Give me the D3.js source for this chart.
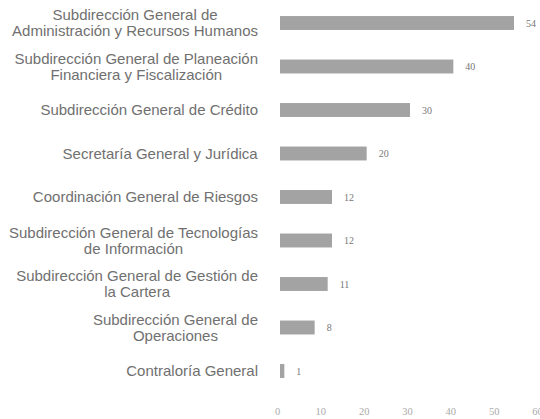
<!DOCTYPE html>
<html lang="es">
<head>
<meta charset="UTF-8" />
<title>Personal por área</title>
<script src="https://cdn.jsdelivr.net/npm/d3@7"></script>
<style>
  body { margin: 0; padding: 0; background: #fff; }
  .cat text { font: 15px "Liberation Sans", Arial, sans-serif; fill: #707070; }
  .val { font: 10px "Liberation Serif", serif; fill: #777; }
  .xaxis text { font: 10.5px "Liberation Serif", serif; fill: #aaa; }
</style>
</head>
<body>
<svg width="540" height="419"></svg>
<script>
// categories, one entry per bar (lines split with "|")
var categories = [
  'Subdirección General de|Administración y Recursos Humanos',
  'Subdirección General de Planeación|Financiera y Fiscalización',
  'Subdirección General de Crédito',
  'Secretaría General y Jurídica',
  'Coordinación General de Riesgos',
  'Subdirección General de Tecnologías|de Información',
  'Subdirección General de Gestión de|la Cartera',
  'Subdirección General de|Operaciones',
  'Contraloría General'
];
var values = [54, 40, 30, 20, 12, 12, 11, 8, 1];
var xTicks = [0, 10, 20, 30, 40, 50, 60];

var svg = d3.select('svg');

var x = d3.scaleLinear().domain([0, 60]).range([280, 540]);
var y = d3.scaleBand()
    .domain(categories)
    .range([1.25, 392.75])
    .paddingInner(0.68)
    .paddingOuter(0.34);

// bars
svg.append('g').selectAll('rect')
    .data(values)
    .join('rect')
    .attr('x', x(0))
    .attr('y', (d, i) => y(categories[i]))
    .attr('width', d => x(d) - x(0))
    .attr('height', y.bandwidth())
    .attr('fill', '#a3a3a3');

// value labels
svg.append('g').selectAll('text')
    .data(values)
    .join('text')
    .attr('class', 'val')
    .attr('x', d => x(d) + 12)
    .attr('y', (d, i) => y(categories[i]) + y.bandwidth() / 2)
    .attr('dy', '0.35em')
    .text(d => d);

// category labels
var lineH = 16;
var cat = svg.append('g').attr('class', 'cat');
categories.forEach(function(c) {
    var lines = c.split('|');
    var cy = y(c) + y.bandwidth() / 2;
    var t = cat.append('text')
        .attr('text-anchor', 'middle')
        .attr('y', cy - (lines.length - 1) * lineH / 2);
    lines.forEach(function(l, j) {
        t.append('tspan')
            .attr('x', 0)
            .attr('dy', j === 0 ? '0.35em' : lineH)
            .text(l);
    });
    // right align the block, lines centred among themselves
    var w = t.node().getBBox().width;
    t.attr('transform', 'translate(' + (258 - w / 2) + ',0)');
});

// x axis, labels only
var xAxis = svg.append('g')
    .attr('class', 'xaxis')
    .attr('transform', 'translate(0,408)')
    .call(d3.axisBottom(x).tickValues(xTicks).tickSize(0).tickPadding(0));
xAxis.select('.domain').remove();
xAxis.selectAll('text').attr('x', -3);
</script>
</body>
</html>
